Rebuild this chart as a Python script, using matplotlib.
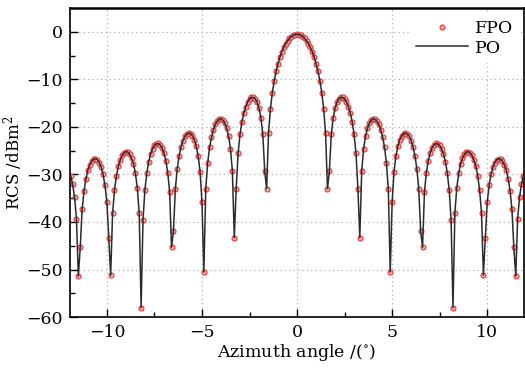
import matplotlib.pyplot as plt
import numpy as np

plt.rcParams['font.family'] = 'serif'
plt.rcParams['font.serif'] = ['DejaVu Serif']
plt.rcParams['mathtext.fontset'] = 'dejavuserif'

# RCS samples (dBm^2), every 0.1 deg
rcs_neg = [-30.3, -32.1, -34.8, -39.3, -51.4, -45.3, -37.3, -33.4, -30.9, -29.1,
           -28.0, -27.2, -26.8, -26.7, -26.9, -27.5, -28.5, -30.0, -32.3, -35.9,
           -43.3, -51.2, -38.2, -33.3, -30.3, -28.3, -27.0, -26.0, -25.5, -25.2,
           -25.3, -25.8, -26.6, -27.8, -29.8, -32.8, -38.1, -58.0, -39.6, -33.2,
           -29.7, -27.3, -25.7, -24.6, -23.9, -23.6, -23.5, -23.8, -24.4, -25.5,
           -27.1, -29.6, -33.7, -45.3, -42.0, -33.1, -28.8, -26.1, -24.2, -22.9,
           -22.0, -21.5, -21.3, -21.4, -21.9, -22.7, -24.1, -26.1, -29.4, -35.8,
           -50.5, -33.1, -27.6, -24.3, -22.2, -20.6, -19.5, -18.8, -18.4, -18.3,
           -18.6, -19.2, -20.3, -22.0, -24.6, -29.3, -43.3, -33.0, -25.6, -21.6,
           -19.0, -17.1, -15.8, -14.8, -14.1, -13.8, -13.8, -14.1, -14.8, -16.1,
           -18.1, -21.6, -29.3, -33.0, -21.3, -16.2, -12.8, -10.3, -8.3, -6.7,
           -5.3, -4.2, -3.3, -2.5, -1.9, -1.4, -1.0, -0.7, -0.6]
rcs_pos = [-0.5, -0.6, -0.7, -1.0, -1.4, -1.9, -2.5, -3.3, -4.2, -5.3,
           -6.7, -8.3, -10.3, -12.8, -16.2, -21.3, -33.0, -29.3, -21.6, -18.1,
           -16.1, -14.8, -14.1, -13.8, -13.8, -14.1, -14.8, -15.8, -17.1, -19.0,
           -21.6, -25.6, -33.0, -43.3, -29.3, -24.6, -22.0, -20.3, -19.2, -18.6,
           -18.3, -18.4, -18.8, -19.5, -20.6, -22.2, -24.3, -27.6, -33.1, -50.5,
           -35.8, -29.4, -26.1, -24.1, -22.7, -21.9, -21.4, -21.3, -21.5, -22.0,
           -22.9, -24.2, -26.1, -28.8, -33.1, -42.0, -45.3, -33.7, -29.6, -27.1,
           -25.5, -24.4, -23.8, -23.5, -23.6, -23.9, -24.6, -25.7, -27.3, -29.7,
           -33.2, -39.6, -58.0, -38.1, -32.8, -29.8, -27.8, -26.6, -25.8, -25.3,
           -25.2, -25.5, -26.0, -27.0, -28.3, -30.3, -33.3, -38.2, -51.2, -43.3,
           -35.9, -32.3, -30.0, -28.5, -27.5, -26.9, -26.7, -26.8, -27.2, -28.0,
           -29.1, -30.9, -33.4, -37.3, -45.3, -51.4, -39.3, -34.8, -32.1, -30.3]

rcs = np.array(rcs_neg + rcs_pos)
angle = np.round(np.arange(-len(rcs_neg), len(rcs_pos)) * 0.1, 1)

fig = plt.figure(figsize=(5.25, 3.73), dpi=100)
ax = fig.add_axes([0.1333, 0.150, 0.865, 0.8286])

ax.plot(angle, rcs, 'o', ms=3.6, mfc='#f5a8a8', mec='#e8383a', mew=0.8,
        label='FPO', zorder=2)
ax.plot(angle, rcs, '-', color='#2b2b2b', lw=1.1, label='PO', zorder=3)

ax.set_xlim(-11.94, 11.94)
ax.set_ylim(-60, 5)
ax.set_xticks([-10, -5, 0, 5, 10])
ax.set_xticks([-7.5, -2.5, 2.5, 7.5], minor=True)
ax.set_yticks(np.arange(-60, 1, 10))
ax.set_yticks(np.arange(-55, 5, 10), minor=True)
ax.tick_params(which='both', direction='in', labelsize=12.5, top=False, right=False)
ax.tick_params(which='major', length=6, width=1, pad=5)
ax.tick_params(which='minor', length=3.5, width=1)
ax.grid(True, which='major', linestyle=(0, (1, 2.5)), color='#b0b0b0', lw=0.9)
for s in ax.spines.values():
    s.set_linewidth(1.2)
ax.spines['top'].set_linewidth(1.8)

ax.set_xlabel(r'Azimuth angle /($^{\circ}$)', fontsize=12.5, labelpad=1)
ax.set_ylabel(r'RCS /dBm$^2$', fontsize=12)
ax.yaxis.set_label_coords(-0.098, 0.5)

leg = ax.legend(loc='upper right', bbox_to_anchor=(1.0, 0.995), fontsize=12.5,
                numpoints=1, handlelength=3.0, handletextpad=0.4,
                labelspacing=0.15, borderaxespad=0.2, frameon=True,
                facecolor='white', edgecolor='none', framealpha=1)

fig.savefig('out.png', dpi=100)
